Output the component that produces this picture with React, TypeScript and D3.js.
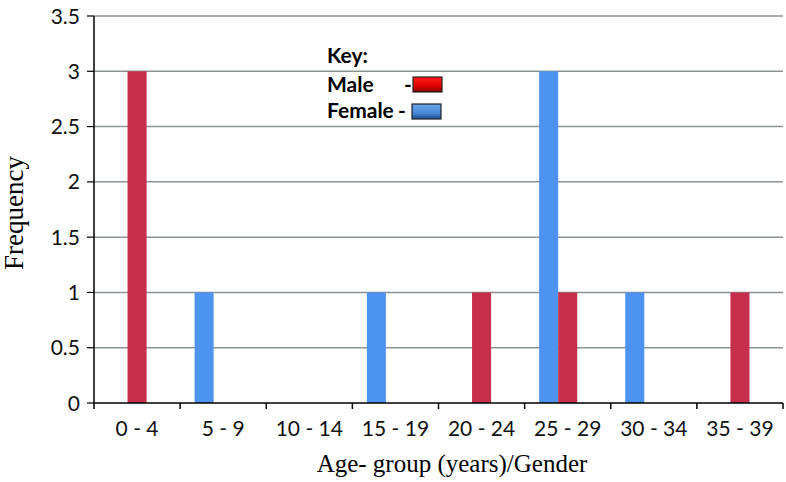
import React from "react";
import * as d3 from "d3";

const categories = ["0 - 4", "5 - 9", "10 - 14", "15 - 19", "20 - 24", "25 - 29", "30 - 34", "35 - 39"];
const femaleValues = [0, 1, 0, 1, 0, 3, 1, 0];
const maleValues = [3, 0, 0, 0, 1, 1, 0, 1];
const seriesNames = ["Female", "Male", "Other"];
const yTicks = [0, 0.5, 1, 1.5, 2, 2.5, 3, 3.5];
const yTickLabels = ["0", "0.5", "1", "1.5", "2", "2.5", "3", "3.5"];

const W = 786, H = 482;
const left = 94, right = 783, top = 16, bottom = 403;

export default function App() {
  const x0 = d3.scaleBand<string>().domain(categories).range([left, right]).padding(0);
  const x1 = d3.scaleBand<string>().domain(seriesNames).range([0, x0.bandwidth()]).paddingInner(0).paddingOuter(0.76);
  const y = d3.scaleLinear().domain([0, 3.5]).range([bottom, top]);
  const colors: Record<string, string> = { Female: "#4F93F0", Male: "#C52F4C" };
  const series = [
    { name: "Female", values: femaleValues },
    { name: "Male", values: maleValues },
  ];
  const boundaries = [...categories.map((c) => x0(c)!), right];
  const tickFont = "Lato, Carlito, 'DejaVu Sans', sans-serif";
  const serif = "'Liberation Serif', 'Times New Roman', serif";

  return (
    <svg width={W} height={H} style={{ position: "absolute", left: 0, top: 0, background: "#fff" }}>
      <defs>
        <linearGradient id="gRed" x1="0" y1="0" x2="0" y2="1">
          <stop offset="0" stopColor="#ff1a1a" />
          <stop offset="0.6" stopColor="#e00000" />
          <stop offset="1" stopColor="#7a0000" />
        </linearGradient>
        <linearGradient id="gBlue" x1="0" y1="0" x2="0" y2="1">
          <stop offset="0" stopColor="#6aa6ee" />
          <stop offset="0.6" stopColor="#4a88d8" />
          <stop offset="1" stopColor="#1d4a94" />
        </linearGradient>
      </defs>
      <rect x={0} y={0} width={W} height={H} fill="#fff" />
      {yTicks.filter((t) => t > 0).map((t) => (
        <line key={t} x1={left} x2={right} y1={y(t)} y2={y(t)} stroke="#8c9494" strokeWidth={1.5} />
      ))}
      {series.map((s) =>
        s.values.map((v, i) =>
          v > 0 ? (
            <rect
              key={s.name + i}
              x={x0(categories[i])! + x1(s.name)!}
              y={y(v)}
              width={x1.bandwidth()}
              height={y(0) - y(v)}
              fill={colors[s.name]}
            />
          ) : null
        )
      )}
      <line x1={left} x2={left} y1={y(3.5)} y2={bottom} stroke="#000" strokeWidth={1.5} />
      <line x1={left} x2={right} y1={bottom} y2={bottom} stroke="#000" strokeWidth={1.5} />
      {yTicks.map((t, i) => (
        <g key={t}>
          <line x1={left - 7} x2={left} y1={y(t)} y2={y(t)} stroke="#000" strokeWidth={1.2} />
          <text x={left - 14} y={y(t)} dy="0.36em" textAnchor="end" fontFamily={tickFont} fontSize={21} fill="#111">
            {yTickLabels[i]}
          </text>
        </g>
      ))}
      {boundaries.map((b, i) => (
        <line key={i} x1={b} x2={b} y1={bottom} y2={bottom + 6} stroke="#000" strokeWidth={1.5} />
      ))}
      {categories.map((c) => (
        <text key={c} x={x0(c)! + x0.bandwidth() / 2} y={436} textAnchor="middle" fontFamily={tickFont} fontSize={21} fill="#111">
          {c}
        </text>
      ))}
      <text x={452} y={472} textAnchor="middle" fontFamily={serif} fontSize={25} fill="#000">
        Age- group (years)/Gender
      </text>
      <text transform={`translate(23, 213) rotate(-90)`} textAnchor="middle" fontFamily={serif} fontSize={27} fill="#000">
        Frequency
      </text>
      <g fontFamily={tickFont} fontWeight="bold" fontSize={21} fill="#000">
        <text x={327} y={63}>Key:</text>
        <text x={327} y={92}>Male</text>
        <text x={404} y={92}>-</text>
        <rect x={413} y={77} width={29} height={15} fill="url(#gRed)" stroke="#222" strokeWidth={1.2} />
        <text x={327} y={118}>Female</text>
        <text x={398} y={118}>-</text>
        <rect x={412} y={104} width={29} height={15} fill="url(#gBlue)" stroke="#222" strokeWidth={1.2} />
      </g>
    </svg>
  );
}
